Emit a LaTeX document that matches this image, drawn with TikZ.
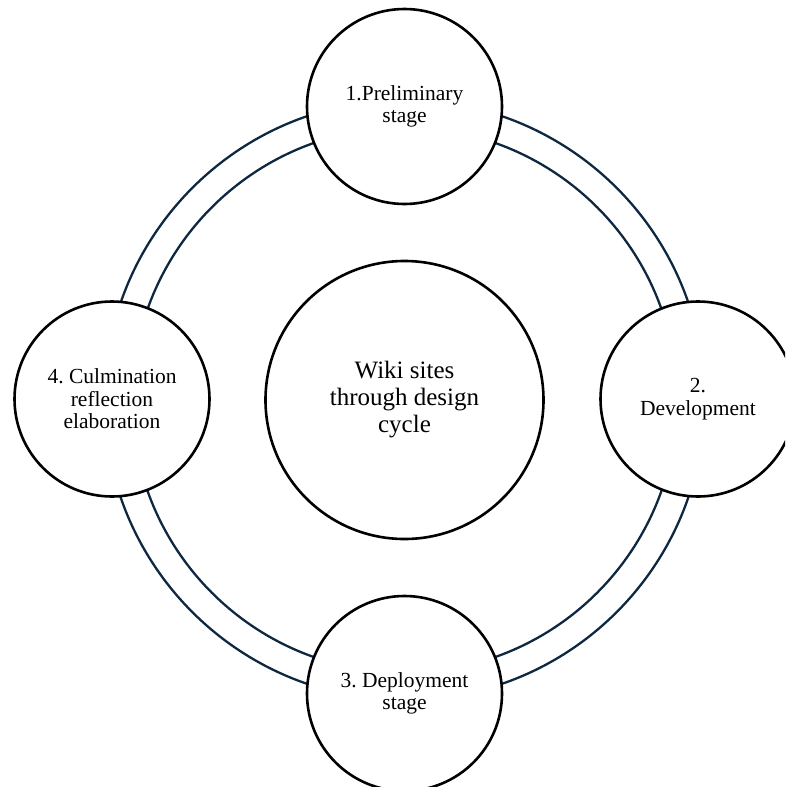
\documentclass[tikz,border=0pt]{standalone}
\usepackage{fontspec}
\setmainfont{Liberation Serif}
\frenchspacing
\definecolor{ringnavy}{RGB}{14,40,66}
\begin{document}
\begin{tikzpicture}[x=1pt,y=-1pt,
  stage/.style={circle,draw=black,line width=2.6pt,fill=white,inner sep=0pt,
    minimum size=195pt,align=center,font=\fontsize{21.5}{22.5}\selectfont},
  hub/.style={circle,draw=black,line width=2.6pt,fill=white,inner sep=0pt,
    minimum size=278pt,align=center,font=\fontsize{25}{27}\selectfont},
  ring/.style={draw=ringnavy,line width=2.3pt}]
\useasboundingbox (0,0) rectangle (785,787);
\clip (0,0) rectangle (785,787);
% cycle ring behind the stages
\coordinate (c) at (404.5,400);
\draw[ring] (c) circle[radius=300pt];
\draw[ring] (c) circle[radius=272.5pt];
% centre topic
\node[hub] (hub) at (c) {Wiki sites\\through design\\cycle};
% the four stages of the cycle
\node[stage] (s1) at (404.5,106.5) {1.Preliminary\\stage};
\node[stage] (s2) at (698,399) {2.\\Development};
\node[stage] (s3) at (404.5,693.5) {3. Deployment\\stage};
\node[stage] (s4) at (112,399) {4. Culmination\\reflection\\elaboration};
\end{tikzpicture}
\end{document}
